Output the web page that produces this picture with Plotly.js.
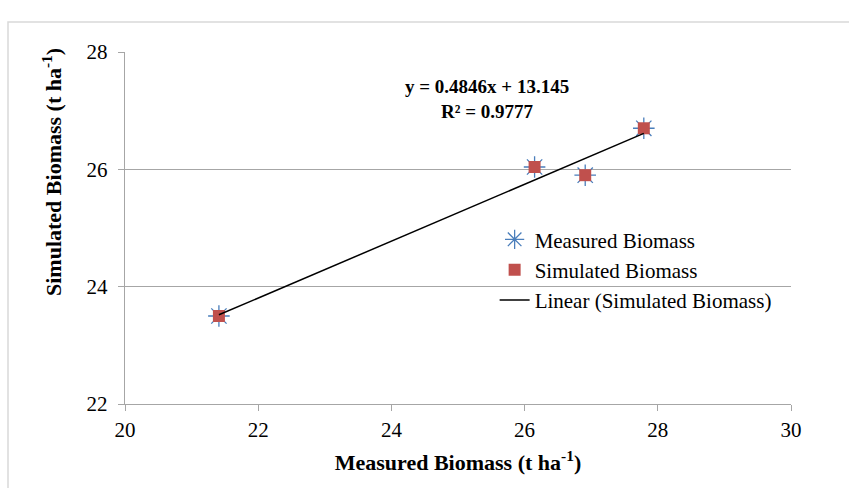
<!DOCTYPE html>
<html><head><meta charset="utf-8">
<script src="https://cdn.plot.ly/plotly-3.0.1.min.js"></script>
<style>html,body{margin:0;padding:0;background:#fff;}#chart{width:849px;height:488px;}</style>
</head><body><div id="chart"></div>
<script>
const measuredX = [21.41, 26.15, 26.91, 27.79];
const simulatedY = [23.50, 26.04, 25.90, 26.70];
const trendSlope = 0.4846;
const trendIntercept = 13.145;
const rSquared = 0.9777;
const xTicks = [20, 22, 24, 26, 28, 30];
const yTicks = [22, 24, 26, 28];

const xMin = Math.min(...measuredX), xMax = Math.max(...measuredX);
const trendX = [xMin, xMax];
const trendY = trendX.map(x => trendSlope * x + trendIntercept);

const serif = "Liberation Serif, Times New Roman, serif";

const data = [
  {x: measuredX, y: simulatedY, type: 'scatter', mode: 'markers', name: 'Measured Biomass',
   marker: {symbol: 'asterisk-open', size: 18, color: '#4a7ebb', line: {color: '#4a7ebb', width: 1.3}}},
  {x: measuredX, y: simulatedY, type: 'scatter', mode: 'markers', name: 'Simulated Biomass',
   marker: {symbol: 'square', size: 12, color: '#c0504d', line: {width: 0}}},
  {x: trendX, y: trendY, type: 'scatter', mode: 'lines', name: 'Linear (Simulated Biomass)',
   line: {color: '#000000', width: 1.5}}
];

const layout = {
  width: 849, height: 488,
  margin: {l: 125, r: 58, t: 52, b: 84},
  paper_bgcolor: '#ffffff', plot_bgcolor: '#ffffff',
  font: {family: serif, size: 21, color: '#000'},
  showlegend: true,
  legend: {x: 0.555, y: 0.525, xanchor: 'left', yanchor: 'top', bgcolor: 'rgba(0,0,0,0)',
           font: {family: serif, size: 21, color: '#000'}, tracegroupgap: 0, itemwidth: 30},
  xaxis: {range: [20, 30], tickvals: xTicks, ticktext: xTicks.map(String), showgrid: false, zeroline: false,
          showline: true, linecolor: '#a6a6a6', linewidth: 1.3, ticks: 'outside', ticklen: 6, tickcolor: '#a6a6a6',
          tickfont: {family: serif, size: 21, color: '#000'}, automargin: false,
          title: {text: '<b>Measured Biomass (t ha<sup>-1</sup>)</b>', font: {family: serif, size: 22, color: '#000'}, standoff: 14}},
  yaxis: {range: [22, 28], tickvals: yTicks, ticktext: yTicks.map(String), showgrid: true, gridcolor: '#a6a6a6', gridwidth: 1.3,
          zeroline: false, showline: true, linecolor: '#a6a6a6', linewidth: 1.3, ticks: 'outside', ticklen: 6, tickcolor: '#a6a6a6',
          tickfont: {family: serif, size: 21, color: '#000'}, automargin: false, ticklabelstandoff: 6},
  annotations: [
    {xref: 'paper', yref: 'paper', x: (487 - 125) / 666, y: (404 - 99) / 352, xanchor: 'center', yanchor: 'middle',
     text: '<b>y = ' + trendSlope + 'x + ' + trendIntercept + '</b><br><b>R² = ' + rSquared + '</b>', showarrow: false,
     font: {family: serif, size: 19, color: '#000'}, align: 'center'},
    {xref: 'paper', yref: 'paper', x: (52 - 125) / 666, y: (404 - 172) / 352, xanchor: 'center', yanchor: 'middle',
     text: '<b>Simulated Biomass (t ha<sup>-1</sup>)</b>', textangle: -90, showarrow: false,
     font: {family: serif, size: 22, color: '#000'}}
  ],
  shapes: [
    {type: 'path', xref: 'paper', yref: 'paper',
     path: 'M ' + ((8 - 125) / 666) + ' ' + ((404 - 500) / 352) + ' L ' + ((8 - 125) / 666) + ' ' + ((404 - 22) / 352) + ' L ' + ((860 - 125) / 666) + ' ' + ((404 - 22) / 352),
     line: {color: '#d9d9d9', width: 1.5}}
  ]
};

Plotly.newPlot('chart', data, layout, {displayModeBar: false, staticPlot: true});
</script></body></html>
